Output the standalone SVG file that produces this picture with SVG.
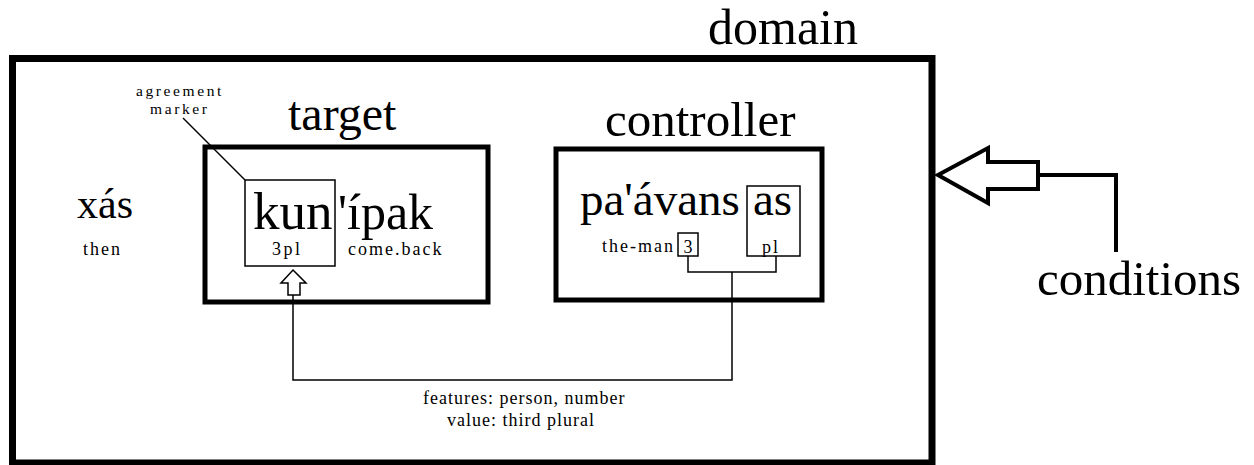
<svg xmlns="http://www.w3.org/2000/svg" width="1254" height="465" viewBox="0 0 1254 465">
<style>
text{font-family:"Liberation Serif","DejaVu Serif",serif;fill:#000}
.big{font-size:48px}
.word{font-size:50px}
.gl{font-size:18px;letter-spacing:2px}
.note{font-size:18px;letter-spacing:1px}
.tag{font-size:15.5px;letter-spacing:2.6px}
.thick{fill:none;stroke:#000}
.thin{fill:none;stroke:#000;stroke-width:1.5}
</style>
<rect width="1254" height="465" fill="#fff"/>
<g id="domain">
<rect class="thick" x="12.5" y="58.5" width="919.5" height="404.5" stroke-width="7"/>
<text class="big" x="708" y="44" style="font-size:50px">domain</text>
</g>
<g id="adverb">
<text x="77" y="218" style="font-size:42px">xás</text>
<text class="gl" x="83" y="255">then</text>
</g>
<g id="target">
<rect class="thick" x="205" y="147" width="283" height="155" stroke-width="5"/>
<text class="big" x="288" y="130">target</text>
<text class="word" x="338" y="229">'ípak</text>
<text class="gl" x="348" y="255">come.back</text>
</g>
<g id="agreement-marker">
<rect class="thin" x="245" y="180" width="90" height="86"/>
<text class="word" x="253" y="229" style="font-size:53px">kun</text>
<text class="gl" x="272" y="255" style="letter-spacing:2.5px">3pl</text>
<text class="tag" x="136" y="96">agreement</text>
<text class="tag" x="150" y="114">marker</text>
</g>
<g id="controller">
<rect class="thick" x="556" y="149" width="266" height="151" stroke-width="5"/>
<text class="big" x="605" y="136" style="font-size:49px">controller</text>
<text x="580" y="215" style="font-size:47px">pa'ávans</text>
<text class="gl" x="602" y="252">the-man</text>
<rect class="thin" x="678" y="233" width="20" height="23"/>
<text class="gl" x="688" y="253" text-anchor="middle" style="letter-spacing:0">3</text>
<rect class="thin" x="747" y="186" width="53" height="70"/>
<text x="753" y="215" style="font-size:47px">as</text>
<text class="gl" x="762" y="253">pl</text>
</g>
<g id="conditions">
<text class="big" x="1037" y="295" style="font-size:49px">conditions</text>
</g>
<g id="connectors">
<path class="thin" d="M183,118 L245,180"/>
<path class="thin" d="M688,256 V272 H776 V256 M732,272 V380 H293 V295"/>
<polygon points="293,270 306,283 300,283 300,295 288,295 288,283 281,283" fill="#fff" stroke="#000" stroke-width="1.5"/>
<polygon points="938,175 988,148 988,162 1038,162 1038,189 988,189 988,203" fill="#fff" stroke="#000" stroke-width="4" stroke-linejoin="miter"/>
<path class="thick" d="M1038,175 H1116 V252" stroke-width="4"/>
</g>
<g id="features-label">
<text class="note" x="423" y="404">features: person, number</text>
<text class="note" x="447" y="426">value: third plural</text>
</g>
</svg>
